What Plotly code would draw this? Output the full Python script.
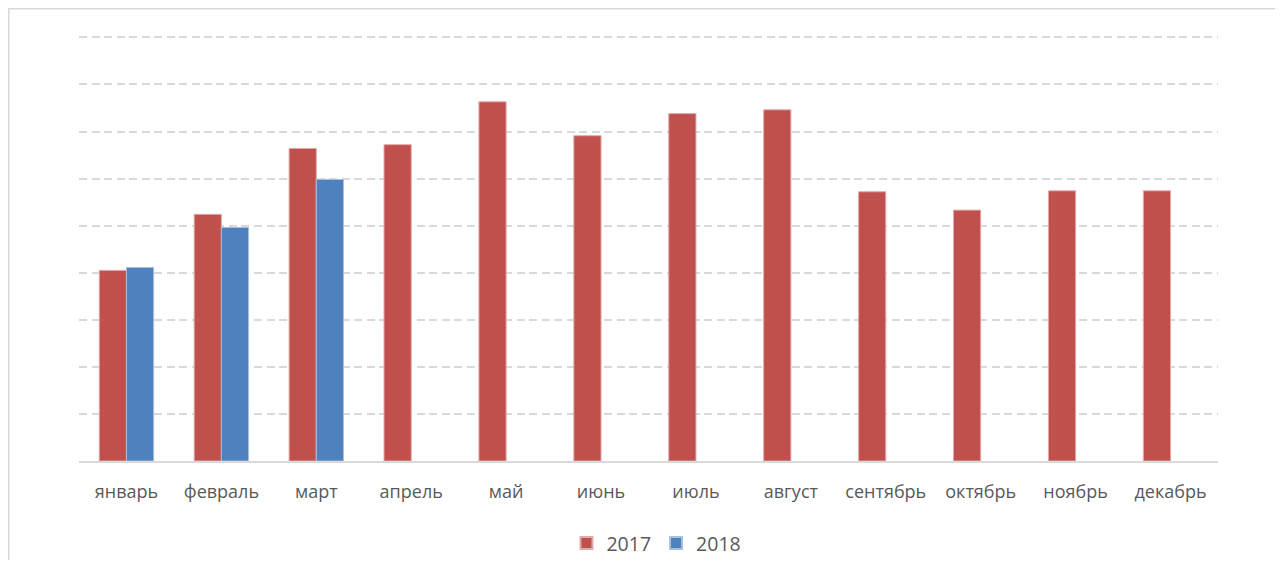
import plotly.graph_objects as go

months = ["январь", "февраль", "март", "апрель", "май", "июнь", "июль",
          "август", "сентябрь", "октябрь", "ноябрь", "декабрь"]
series_2017 = [4.05, 5.24, 6.64, 6.72, 7.63, 6.91, 7.38, 7.46, 5.72, 5.33, 5.74, 5.74]
series_2018 = [4.11, 4.96, 5.98, None, None, None, None, None, None, None, None, None]

PLOT_H = 425.4

fig = go.Figure()
fig.add_trace(go.Bar(x=months, y=series_2017, name="2017",
                     marker=dict(color="#C0504D", line=dict(color="#E3A9A8", width=1))))
fig.add_trace(go.Bar(x=months, y=series_2018, name="2018",
                     marker=dict(color="#4F81BD", line=dict(color="#A7C0E0", width=1))))

fig.update_layout(
    width=1267, height=552,
    margin=dict(l=71, r=57, t=27.35, b=99.3, pad=0, autoexpand=False),
    paper_bgcolor="white", plot_bgcolor="white",
    barmode="group", bargap=0.427, bargroupgap=0,
    font=dict(family="Open Sans", color="#595959", size=18),
    showlegend=True,
    legend=dict(orientation="h", x=0.507, xanchor="center", y=-0.1935, yanchor="middle",
                font=dict(size=19.5, color="#595959"), traceorder="normal",
                itemwidth=30, itemsizing="constant"),
    xaxis=dict(showline=True, linecolor="#D9D9D9", linewidth=1.5, showgrid=False,
               ticks="outside", ticklen=14, tickcolor="rgba(0,0,0,0)",
               tickfont=dict(size=18, color="#595959"), automargin=False),
    yaxis=dict(range=[0, 9.05], dtick=1, showticklabels=False, showgrid=True,
               gridcolor="#D9D9D9", gridwidth=1.5, griddash="8px,4.5px",
               zeroline=False, automargin=False),
    shapes=[dict(type="rect", xref="paper", yref="paper",
                 x0=(0.75 - 71) / 1139, x1=1.2, y0=-0.5, y1=(452.7 - 1) / PLOT_H,
                 line=dict(color="#D9D9D9", width=1.5), fillcolor="rgba(0,0,0,0)",
                 layer="below")],
)

fig.write_html("out.html")
